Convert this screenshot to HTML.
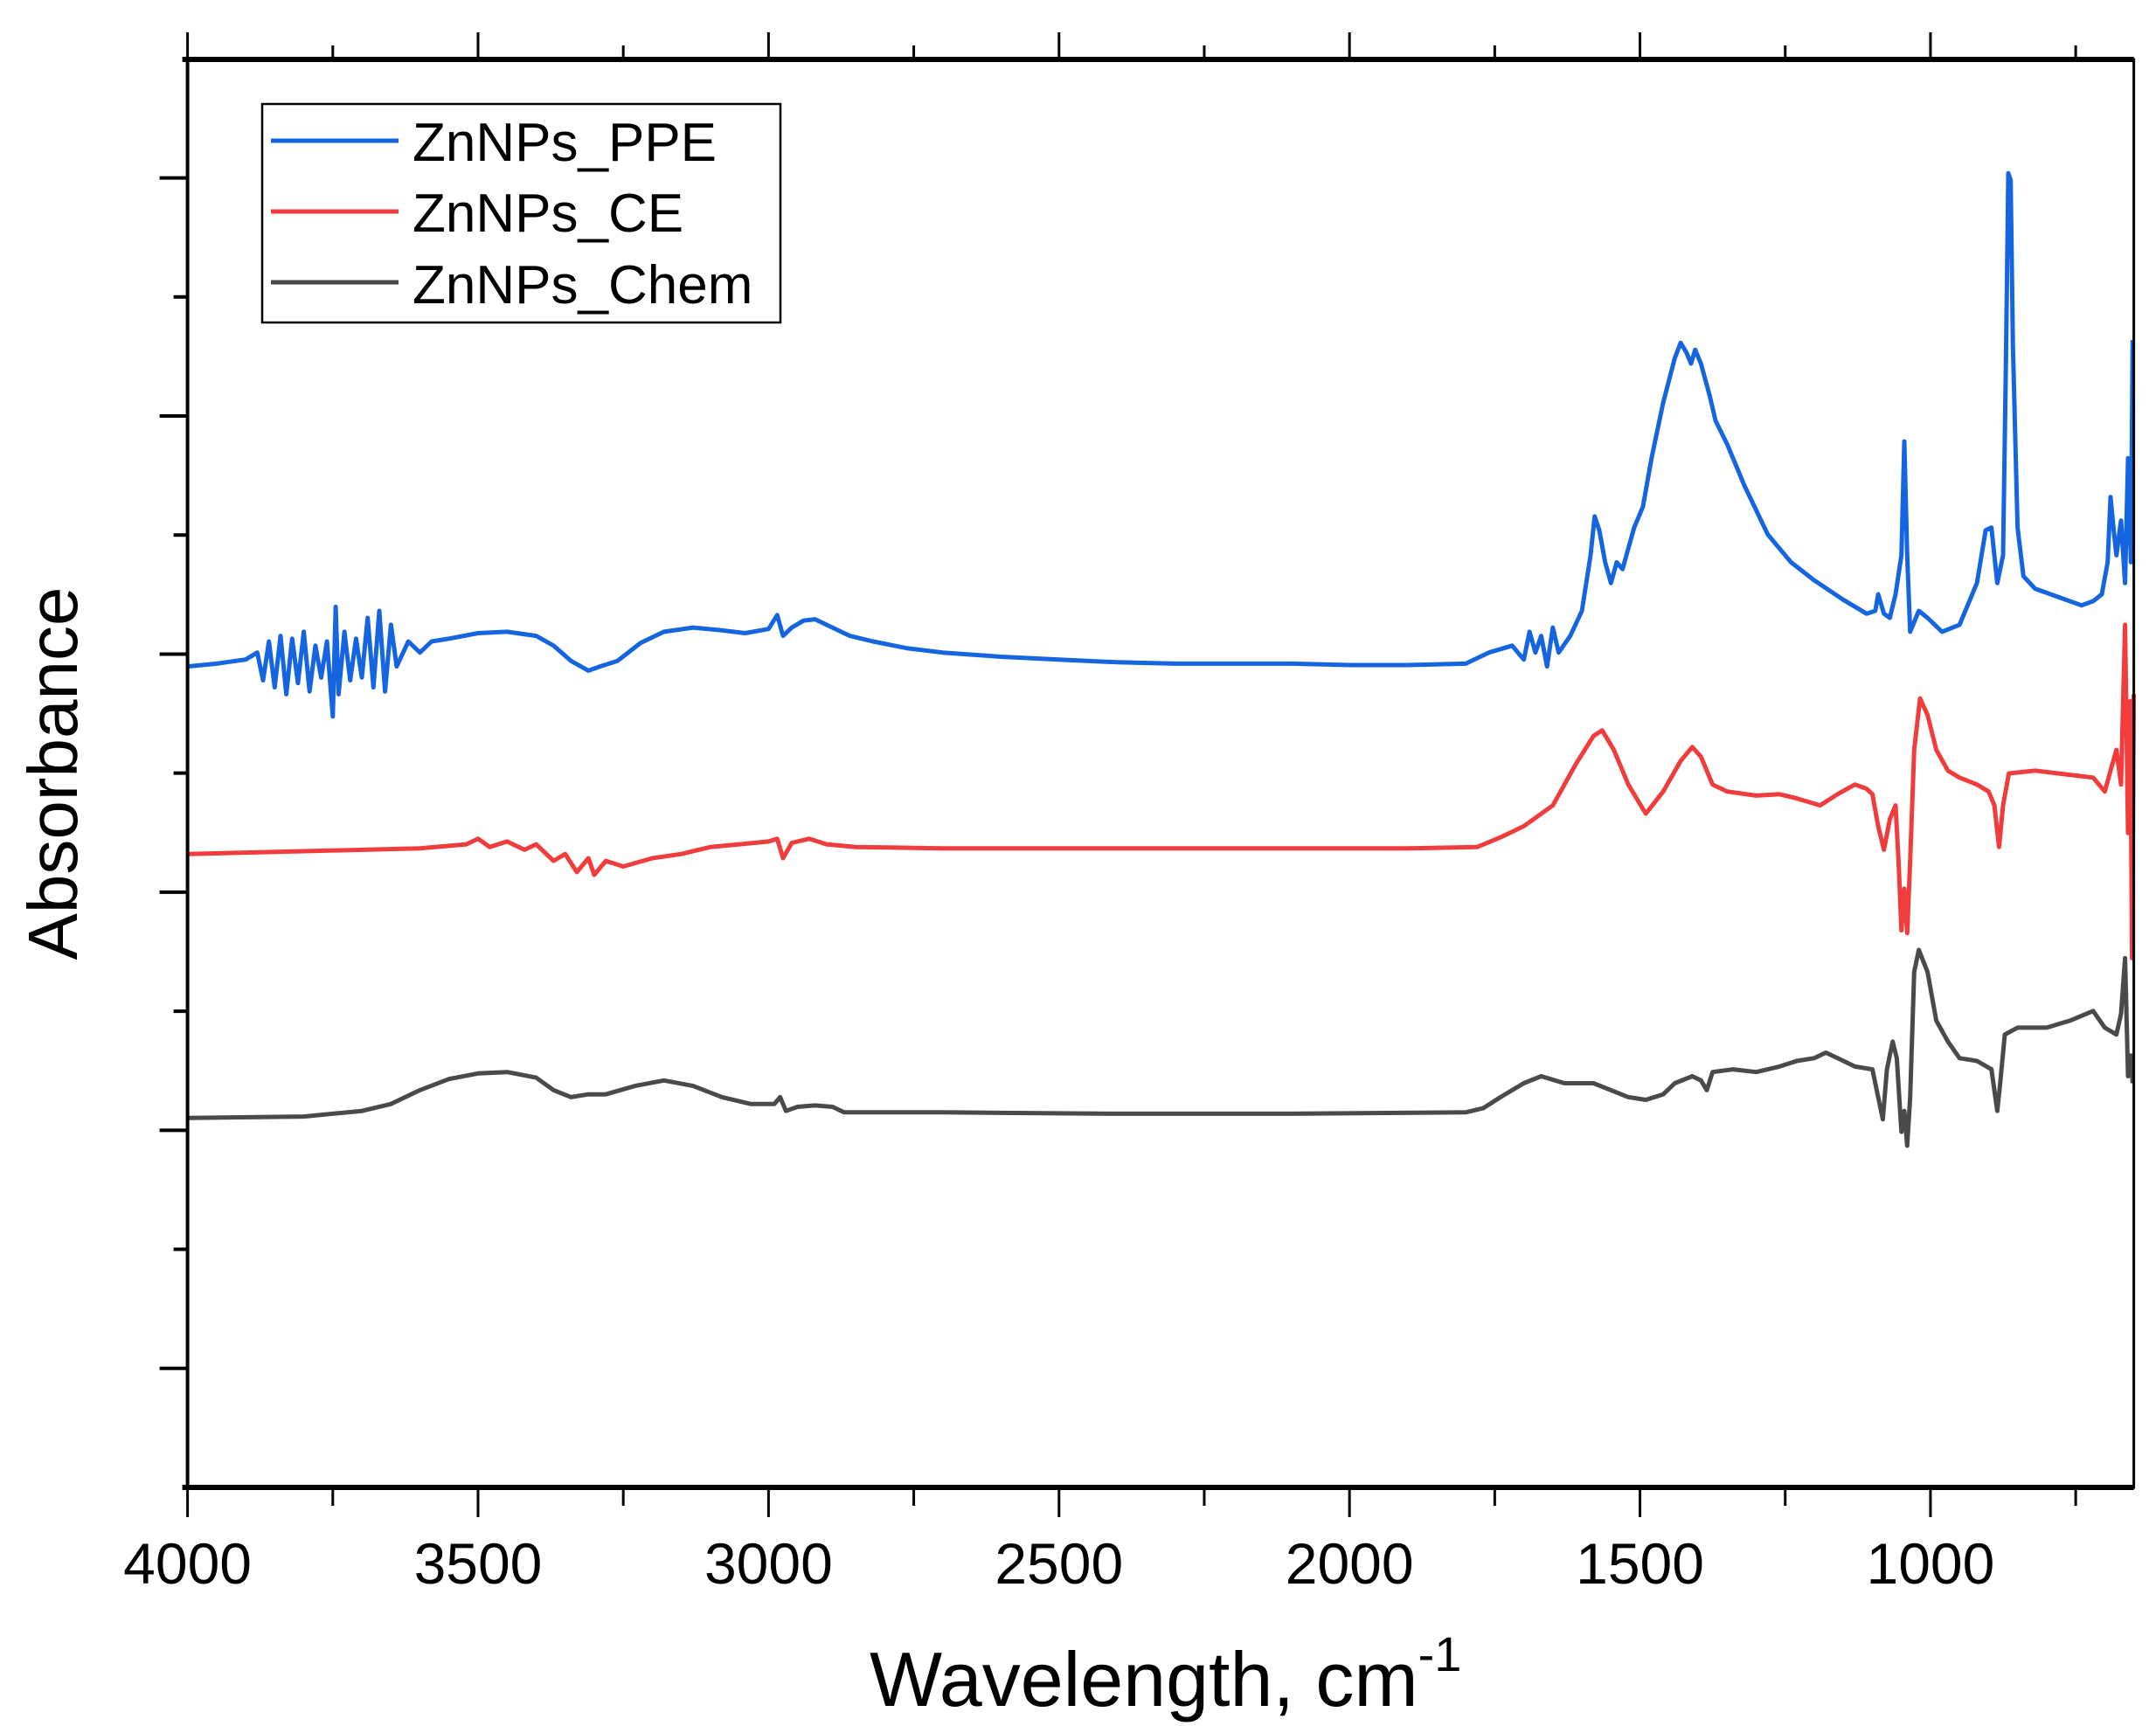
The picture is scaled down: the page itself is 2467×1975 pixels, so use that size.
<!DOCTYPE html>
<html><head><meta charset="utf-8"><style>
html,body{margin:0;padding:0;background:#fff;}
svg{display:block;font-family:"Liberation Sans",sans-serif;}
</style></head><body>
<svg id="chart" width="2467" height="1975" viewBox="0 0 2467 1975" xmlns="http://www.w3.org/2000/svg">
<g id="plot"></g>
<g id="axes"></g>
<text x="995" y="1952" font-size="88">Wavelength, cm<tspan font-size="56" dy="-40">-1</tspan></text>
<text transform="translate(88,885) rotate(-90)" text-anchor="middle" font-size="80">Absorbance</text>
<g>
<rect x="300" y="119" width="593" height="250" fill="#fff" stroke="#000" stroke-width="2.5"/>
<line x1="310" y1="161" x2="456" y2="161" stroke="#1565e0" stroke-width="5"/>
<text x="472" y="184" font-size="62">ZnNPs_PPE</text>
<line x1="310" y1="242" x2="456" y2="242" stroke="#f03c3c" stroke-width="5"/>
<text x="472" y="265" font-size="62">ZnNPs_CE</text>
<line x1="310" y1="323" x2="456" y2="323" stroke="#4a4a4a" stroke-width="5"/>
<text x="472" y="347" font-size="62">ZnNPs_Chem</text>
</g>
</svg>
<script>
const xTickLabels = [4000, 3500, 3000, 2500, 2000, 1500, 1000];
const ppeWn = [4000,3950,3900,3880,3870,3860,3850,3840,3830,3820,3810,3800,3790,3780,3770,3760,3750,3745,3740,3730,3720,3710,3700,3690,3680,3670,3660,3650,3640,3620,3600,3580,3550,3500,3450,3400,3370,3340,3310,3290,3260,3220,3180,3130,3080,3040,3000,2985,2975,2960,2940,2920,2890,2860,2820,2760,2700,2600,2500,2400,2300,2200,2100,2000,1900,1800,1760,1720,1700,1690,1680,1670,1660,1650,1640,1620,1600,1585,1578,1570,1560,1550,1540,1530,1520,1510,1495,1480,1460,1440,1430,1420,1412,1405,1395,1380,1370,1350,1320,1280,1240,1200,1150,1110,1095,1090,1080,1070,1060,1050,1045,1040,1035,1020,1005,980,950,920,905,895,885,875,870,866,862,858,850,840,820,780,740,720,705,695,690,685,680,672,665,660,655,652];
const ppeAbs = [591,593,596,601,581,609,576,613,571,611,579,616,573,606,583,609,555,634,571,616,581,611,583,626,576,631,573,621,591,609,601,609,611,615,616,613,606,595,588,591,595,608,616,619,617,615,618,628,613,619,624,625,619,613,609,604,601,598,596,594,593,593,593,592,592,593,601,606,596,616,601,613,591,619,601,613,631,671,699,689,666,651,666,661,676,691,706,741,781,813,824,817,809,819,809,786,768,751,721,686,666,653,639,629,631,643,629,626,643,671,753,671,616,631,626,616,621,651,689,691,651,671,811,946,941,821,691,656,647,641,635,638,643,666,713,691,671,696,651,741,666,826];
const ceWn = [4000,3800,3600,3520,3500,3480,3450,3420,3400,3370,3350,3330,3310,3300,3280,3250,3200,3150,3100,3050,3000,2985,2975,2960,2930,2900,2850,2700,2500,2200,1900,1780,1740,1700,1650,1610,1580,1565,1545,1520,1490,1460,1430,1410,1395,1375,1350,1300,1260,1230,1190,1160,1130,1110,1100,1090,1080,1070,1060,1055,1050,1045,1040,1035,1028,1018,1005,990,970,950,920,900,890,882,875,865,820,760,720,700,690,680,672,665,660,656,653,650];
const ceAbs = [456,458,460,463,467,461,465,459,463,451,456,443,453,441,451,447,453,456,461,463,465,467,453,464,467,463,461,460,460,460,460,461,468,476,491,521,541,545,531,506,485,501,523,533,526,506,501,498,499,496,491,499,506,503,499,476,459,481,491,451,401,431,399,451,531,568,556,531,516,511,506,501,491,461,491,514,516,513,511,501,516,531,506,621,471,566,381,571];
const chemWn = [4000,3800,3700,3650,3600,3550,3500,3450,3400,3370,3340,3310,3280,3230,3180,3130,3080,3030,2990,2980,2970,2950,2920,2890,2870,2700,2400,2100,1800,1770,1740,1700,1670,1630,1580,1550,1520,1490,1460,1440,1410,1395,1385,1375,1340,1300,1260,1230,1200,1180,1160,1130,1100,1090,1082,1075,1065,1058,1050,1045,1040,1035,1028,1020,1005,990,970,950,920,895,885,880,872,850,800,760,720,700,680,672,665,660,655,652];
const chemAbs = [266,267,271,276,286,294,298,299,295,286,281,283,283,289,293,289,281,276,276,281,271,274,275,274,270,270,269,269,270,273,281,291,296,291,291,286,281,279,283,291,296,293,286,299,301,299,303,307,309,313,309,303,301,281,265,301,321,309,256,271,246,281,371,387,371,336,321,309,307,301,271,291,326,331,331,336,343,331,326,341,381,296,311,291];

const NS='http://www.w3.org/2000/svg';
const L=214.6, R=2441.6, T=68, B=1702;
const X0=4000, X1=650, Y0=0, Y1=1028;
const xs = w => L + (X0 - w) / (X0 - X1) * (R - L);
const ys = v => B - (v - Y0) / (Y1 - Y0) * (B - T);
const plot=document.getElementById('plot'), axes=document.getElementById('axes');
function mk(tag, attrs, parent){const e=document.createElementNS(NS,tag);for(const k in attrs)e.setAttribute(k,attrs[k]);parent.appendChild(e);return e;}
function series(wn, ab, color, name){
  const d = wn.map((w,i)=>(i?'L':'M')+xs(w).toFixed(1)+' '+ys(ab[i]).toFixed(1)).join('');
  const p = mk('path',{d:d,fill:'none',stroke:color,'stroke-width':5,'stroke-linejoin':'round'},plot);
  
  
}
series(chemWn, chemAbs, '#4a4a4a', 'series-chem');
series(ceWn, ceAbs, '#f03c3c', 'series-ce');
series(ppeWn, ppeAbs, '#1565e0', 'series-ppe');

const fr = mk('rect',{x:L,y:T,width:R-L,height:B-T,fill:'none',stroke:'#000','stroke-width':3},axes);


const bl = mk('line',{x1:L-6,y1:B,x2:R,y2:B,stroke:'#000','stroke-width':6},axes);


const tl = mk('line',{x1:L-6,y1:T,x2:R,y2:T,stroke:'#000','stroke-width':6},axes);


const ll = mk('line',{x1:L,y1:T,x2:L,y2:B,stroke:'#000','stroke-width':4},axes);


for(let w=4000; w>=750; w-=250){
  const major = w%500===0, x=xs(w);
  const t1 = mk('line',{x1:x,y1:B,x2:x,y2:B+(major?34:21),stroke:'#000','stroke-width':3},axes);
  
  
  const t2 = mk('line',{x1:x,y1:T,x2:x,y2:T-(major?31:16),stroke:'#000','stroke-width':3},axes);
  
  
}
xTickLabels.forEach(w=>{
  const t = mk('text',{x:xs(w),y:1812,'text-anchor':'middle','font-size':66},axes);
  t.textContent = w;
  
  
});
for(let k=1;k<=11;k++){
  const v = k*85.7, major = k%2===1, y=ys(v);
  const t = mk('line',{x1:L,y1:y,x2:L-(major?32:16),y2:y,stroke:'#000','stroke-width':4},axes);
  
  
}
</script>
</body></html>
